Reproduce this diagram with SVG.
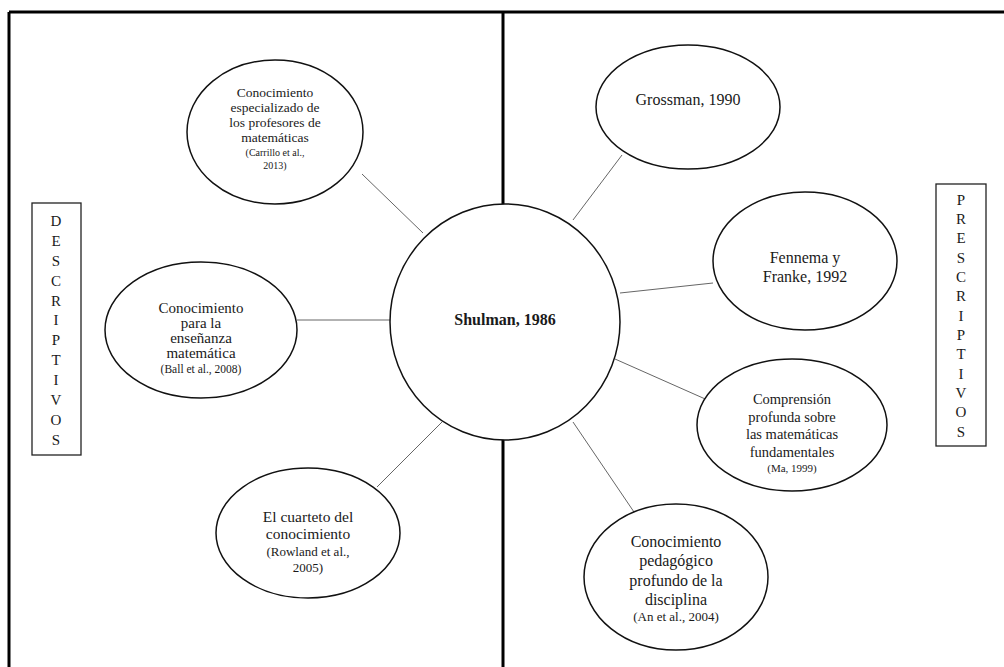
<svg xmlns="http://www.w3.org/2000/svg" width="1004" height="667" viewBox="0 0 1004 667">
  <style>
    .frame { stroke: #000; stroke-width: 3; fill: none; }
    .node { fill: #fff; stroke: #111; stroke-width: 1.5; }
    .box { fill: #fff; stroke: #222; stroke-width: 1.3; }
    .link { stroke: #666; stroke-width: 1; fill: none; }
    text { font-family: "Liberation Serif", "Times New Roman", serif; fill: #1a1a1a; text-anchor: middle; }
    .bold { font-weight: bold; }
  </style>
  <rect width="1004" height="667" fill="#fff"/>

  <!-- outer frame and central divider -->
  <g id="frame">
    <line class="frame" x1="9" y1="12" x2="1004" y2="12"/>
    <line class="frame" x1="9" y1="12" x2="9" y2="667"/>
    <line class="frame" x1="503" y1="12" x2="503" y2="667"/>
  </g>

  <!-- connectors from the central node -->
  <g id="connectors">
    <line class="link" x1="362" y1="174" x2="423" y2="233"/>
    <line class="link" x1="297" y1="320" x2="390" y2="320"/>
    <line class="link" x1="377" y1="487" x2="442" y2="422"/>
    <line class="link" x1="622" y1="155" x2="573" y2="220"/>
    <line class="link" x1="620" y1="293" x2="713" y2="283"/>
    <line class="link" x1="615" y1="359" x2="712" y2="402"/>
    <line class="link" x1="573" y1="422" x2="634" y2="512"/>
  </g>

  <g id="shulman">
    <ellipse class="node" cx="505" cy="322" rx="115" ry="118"/>
    <text class="bold" x="505" y="325" font-size="16">Shulman, 1986</text>
  </g>

  <g id="carrillo">
    <ellipse class="node" cx="275" cy="132" rx="88" ry="72"/>
    <text x="275" y="97" font-size="13.5">Conocimiento</text>
    <text x="275" y="112" font-size="13.5">especializado de</text>
    <text x="275" y="127" font-size="13.5">los profesores de</text>
    <text x="275" y="142" font-size="13.5">matemáticas</text>
    <text x="275" y="156" font-size="10">(Carrillo et al.,</text>
    <text x="275" y="169" font-size="10">2013)</text>
  </g>

  <g id="ball">
    <ellipse class="node" cx="201" cy="330" rx="96" ry="68"/>
    <text x="201" y="313" font-size="15">Conocimiento</text>
    <text x="201" y="328" font-size="15">para la</text>
    <text x="201" y="343" font-size="15">enseñanza</text>
    <text x="201" y="358" font-size="15">matemática</text>
    <text x="201" y="373" font-size="11.5">(Ball et al., 2008)</text>
  </g>

  <g id="rowland">
    <ellipse class="node" cx="308" cy="533" rx="92" ry="65"/>
    <text x="308" y="522" font-size="15.5">El cuarteto del</text>
    <text x="308" y="539" font-size="15.5">conocimiento</text>
    <text x="308" y="556" font-size="13">(Rowland et al.,</text>
    <text x="308" y="572" font-size="13">2005)</text>
  </g>

  <g id="grossman">
    <ellipse class="node" cx="688" cy="107" rx="92" ry="62"/>
    <text x="688" y="105" font-size="16">Grossman, 1990</text>
  </g>

  <g id="fennema">
    <ellipse class="node" cx="805" cy="261" rx="92" ry="69"/>
    <text x="805" y="263" font-size="16">Fennema y</text>
    <text x="805" y="282" font-size="16">Franke, 1992</text>
  </g>

  <g id="ma">
    <ellipse class="node" cx="792" cy="425" rx="95" ry="66"/>
    <text x="792" y="404" font-size="14.5">Comprensión</text>
    <text x="792" y="422" font-size="14.5">profunda sobre</text>
    <text x="792" y="439" font-size="14.5">las matemáticas</text>
    <text x="792" y="457" font-size="14.5">fundamentales</text>
    <text x="792" y="472" font-size="11">(Ma, 1999)</text>
  </g>

  <g id="an">
    <ellipse class="node" cx="676" cy="577" rx="92" ry="73"/>
    <text x="676" y="547" font-size="16">Conocimiento</text>
    <text x="676" y="566" font-size="16">pedagógico</text>
    <text x="676" y="586" font-size="16">profundo de la</text>
    <text x="676" y="605" font-size="16">disciplina</text>
    <text x="676" y="621" font-size="13">(An et al., 2004)</text>
  </g>

  <g id="descriptivos">
    <rect class="box" x="32" y="203" width="49" height="252"/>
    <text x="56" y="226" font-size="15">D</text>
    <text x="56" y="246" font-size="15">E</text>
    <text x="56" y="266" font-size="15">S</text>
    <text x="56" y="286" font-size="15">C</text>
    <text x="56" y="306" font-size="15">R</text>
    <text x="56" y="325" font-size="15">I</text>
    <text x="56" y="345" font-size="15">P</text>
    <text x="56" y="365" font-size="15">T</text>
    <text x="56" y="385" font-size="15">I</text>
    <text x="56" y="405" font-size="15">V</text>
    <text x="56" y="425" font-size="15">O</text>
    <text x="56" y="445" font-size="15">S</text>
  </g>

  <g id="prescriptivos">
    <rect class="box" x="936" y="184" width="50" height="262"/>
    <text x="961" y="205" font-size="15">P</text>
    <text x="961" y="224" font-size="15">R</text>
    <text x="961" y="243" font-size="15">E</text>
    <text x="961" y="263" font-size="15">S</text>
    <text x="961" y="282" font-size="15">C</text>
    <text x="961" y="301" font-size="15">R</text>
    <text x="961" y="321" font-size="15">I</text>
    <text x="961" y="340" font-size="15">P</text>
    <text x="961" y="359" font-size="15">T</text>
    <text x="961" y="379" font-size="15">I</text>
    <text x="961" y="398" font-size="15">V</text>
    <text x="961" y="417" font-size="15">O</text>
    <text x="961" y="437" font-size="15">S</text>
  </g>
</svg>
